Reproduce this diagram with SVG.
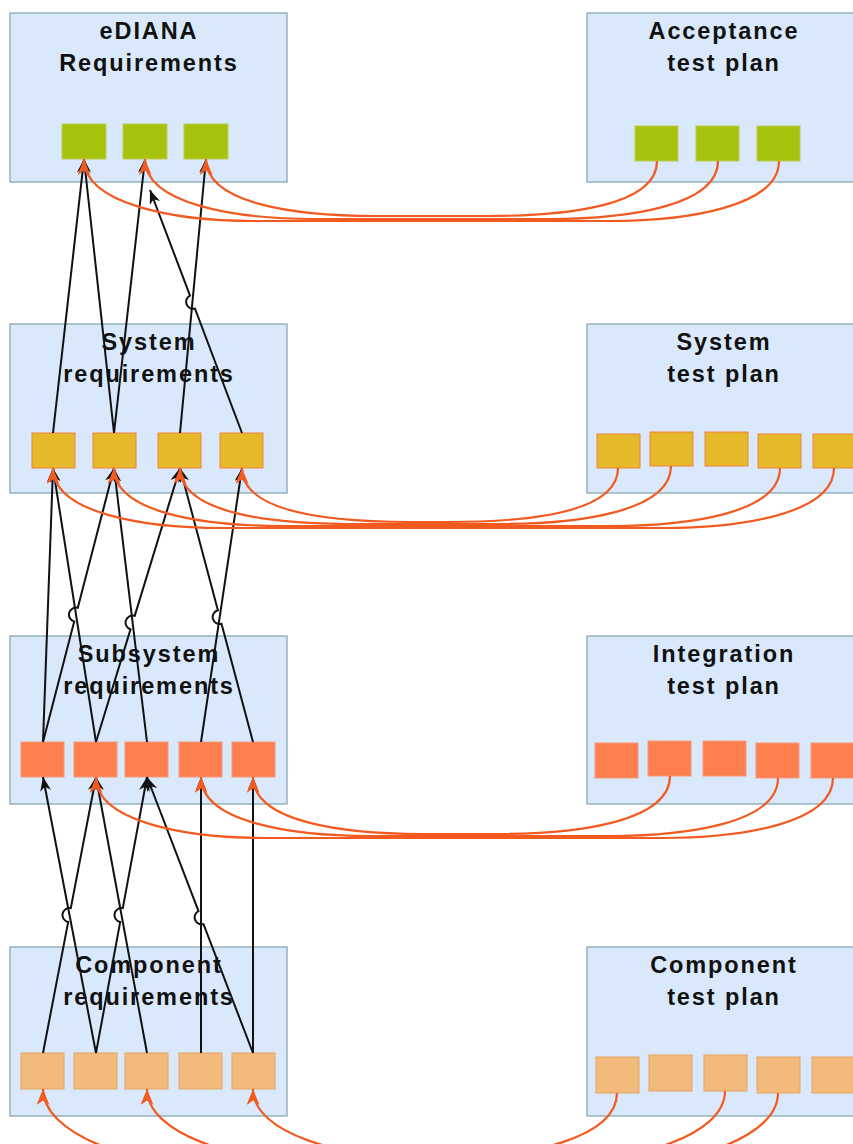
<svg xmlns="http://www.w3.org/2000/svg" width="853" height="1144" viewBox="0 0 853 1144">
<style>
.box{fill:#dae8fc;stroke:#86a9b0;stroke-width:1.3}
.t{font-family:"Liberation Sans",Arial,sans-serif;font-weight:bold;font-size:23.5px;letter-spacing:1.9px;fill:#111;text-anchor:middle}
.g{fill:#a5c30c;stroke:#bccd55;stroke-width:1}
.y{fill:#e6b92a;stroke:#f0823c;stroke-width:1}
.c{fill:#fd7e4f;stroke:#f99a78;stroke-width:1}
.o{fill:#f3bb7b;stroke:#e1a463;stroke-width:1}
.bl{fill:none;stroke:#111;stroke-width:2;marker-end:url(#ab)}
.or{fill:none;stroke:#f25a20;stroke-width:2.2;marker-end:url(#ao)}
</style>
<defs>
<marker id="ab" viewBox="0 0 14 11" refX="14" refY="5.5" markerWidth="14" markerHeight="11" orient="auto" markerUnits="userSpaceOnUse"><path d="M0,0 L14,5.5 L0,11 L4,5.5 z" fill="#111"/></marker>
<marker id="ao" viewBox="0 0 16 13" refX="16" refY="6.5" markerWidth="16" markerHeight="13" orient="auto" markerUnits="userSpaceOnUse"><path d="M0,0 L16,6.5 L0,13 L4.5,6.5 z" fill="#f25a20"/></marker>
</defs>

<g id="ediana-req">
<rect class="box" x="10" y="13" width="277" height="169"/>
<text class="t" x="149" y="39">eDIANA</text>
<text class="t" x="149" y="71">Requirements</text>
<rect class="g" x="62" y="124" width="44" height="35"/>
<rect class="g" x="123" y="124" width="44" height="35"/>
<rect class="g" x="184" y="124" width="44" height="35"/>
</g>
<g id="acceptance-test">
<rect class="box" x="587" y="13" width="280" height="169"/>
<text class="t" x="724" y="39">Acceptance</text>
<text class="t" x="724" y="71">test plan</text>
<rect class="g" x="635" y="126" width="43" height="35"/>
<rect class="g" x="696" y="126" width="43" height="35"/>
<rect class="g" x="757" y="126" width="43" height="35"/>
</g>

<g id="system-req">
<rect class="box" x="10" y="324" width="277" height="169"/>
<text class="t" x="149" y="350">System</text>
<text class="t" x="149" y="382">requirements</text>
<rect class="y" x="32" y="433" width="43" height="35"/>
<rect class="y" x="93" y="433" width="43" height="35"/>
<rect class="y" x="158" y="433" width="43" height="35"/>
<rect class="y" x="220" y="433" width="43" height="35"/>
</g>
<g id="system-test">
<rect class="box" x="587" y="324" width="280" height="169"/>
<text class="t" x="724" y="350">System</text>
<text class="t" x="724" y="382">test plan</text>
<rect class="y" x="597" y="434" width="43" height="34"/>
<rect class="y" x="650" y="432" width="43" height="34"/>
<rect class="y" x="705" y="432" width="43" height="34"/>
<rect class="y" x="758" y="434" width="43" height="34"/>
<rect class="y" x="813" y="434" width="43" height="34"/>
</g>

<g id="subsystem-req">
<rect class="box" x="10" y="636" width="277" height="168"/>
<text class="t" x="149" y="662">Subsystem</text>
<text class="t" x="149" y="694">requirements</text>
<rect class="c" x="21" y="742" width="43" height="35"/>
<rect class="c" x="74" y="742" width="43" height="35"/>
<rect class="c" x="125" y="742" width="43" height="35"/>
<rect class="c" x="179" y="742" width="43" height="35"/>
<rect class="c" x="232" y="742" width="43" height="35"/>
</g>
<g id="integration-test">
<rect class="box" x="587" y="636" width="280" height="168"/>
<text class="t" x="724" y="662">Integration</text>
<text class="t" x="724" y="694">test plan</text>
<rect class="c" x="595" y="743" width="43" height="35"/>
<rect class="c" x="648" y="741" width="43" height="35"/>
<rect class="c" x="703" y="741" width="43" height="35"/>
<rect class="c" x="756" y="743" width="43" height="35"/>
<rect class="c" x="811" y="743" width="43" height="35"/>
</g>

<g id="component-req">
<rect class="box" x="10" y="947" width="277" height="169"/>
<text class="t" x="149" y="973">Component</text>
<text class="t" x="149" y="1005">requirements</text>
<rect class="o" x="21" y="1053" width="43" height="36"/>
<rect class="o" x="74" y="1053" width="43" height="36"/>
<rect class="o" x="125" y="1053" width="43" height="36"/>
<rect class="o" x="179" y="1053" width="43" height="36"/>
<rect class="o" x="232" y="1053" width="43" height="36"/>
</g>
<g id="component-test">
<rect class="box" x="587" y="947" width="280" height="169"/>
<text class="t" x="724" y="973">Component</text>
<text class="t" x="724" y="1005">test plan</text>
<rect class="o" x="596" y="1057" width="43" height="36"/>
<rect class="o" x="649" y="1055" width="43" height="36"/>
<rect class="o" x="704" y="1055" width="43" height="36"/>
<rect class="o" x="757" y="1057" width="43" height="36"/>
<rect class="o" x="812" y="1057" width="43" height="36"/>
</g>

<g id="connectors">
<path class="bl" d="M53,433 L84,159"/>
<path class="bl" d="M114,433 L84,159"/>
<path class="bl" d="M114,433 L145,159"/>
<path class="bl" d="M180,433 L206,159"/>
<path class="bl" d="M242,433 L195,308.6 A7,7 0 0 1 190,295.6 L150,190"/>

<path class="bl" d="M43,742 L53,468"/>
<path class="bl" d="M43,742 L74.2,621.4 A7,7 0 0 1 77.8,607.8 L114,468"/>
<path class="bl" d="M96,742 L53,468"/>
<path class="bl" d="M96,742 L130.5,629.3 A7,7 0 0 1 134.7,615.9 L180,468"/>
<path class="bl" d="M147,742 L114,468"/>
<path class="bl" d="M201,742 L242,468"/>
<path class="bl" d="M253,742 L221.5,623.8 A7,7 0 0 1 217.9,610.2 L180,468"/>

<path class="bl" d="M43,1053 L68.2,921.9 A7,7 0 0 1 70.8,908.1 L96,777"/>
<path class="bl" d="M96,1053 L43,777"/>
<path class="bl" d="M96,1053 L120.2,921.9 A7,7 0 0 1 122.8,908.1 L147,777"/>
<path class="bl" d="M147,1053 L96,777"/>
<path class="bl" d="M253,1053 L203.5,924.1 A7,7 0 0 1 198.5,911.1 L147,777"/>
<path class="bl" d="M201,1053 L201,777"/>
<path class="bl" d="M253,1053 L253,777"/>

<path class="or" d="M657,161 C657,206 567,216 487,216 L376,216 C296,216 206,204 206,159"/>
<path class="or" d="M718,161 C718,206 628,219 548,219 L315,219 C235,219 145,204 145,159"/>
<path class="or" d="M779,161 C779,206 689,221 609,221 L254,221 C174,221 84,204 84,159"/>

<path class="or" d="M618,468 C618,513 528,522 448,522 L412,522 C332,522 242,513 242,468"/>
<path class="or" d="M671,466 C671,511 581,524 501,524 L350,524 C270,524 180,513 180,468"/>
<path class="or" d="M780,468 C780,513 690,526 610,526 L284,526 C204,526 114,513 114,468"/>
<path class="or" d="M834,468 C834,513 744,528 664,528 L223,528 C143,528 53,513 53,468"/>

<path class="or" d="M670,776 C670,821 580,834 500,834 L423,834 C343,834 253,822 253,777"/>
<path class="or" d="M778,778 C778,823 688,836 608,836 L371,836 C291,836 201,822 201,777"/>
<path class="or" d="M833,778 C833,823 743,838 663,838 L266,838 C186,838 96,822 96,777"/>

<path class="or" d="M617,1093 C617,1138 527,1158 447,1158 L423,1158 C343,1158 253,1134 253,1089"/>
<path class="or" d="M725,1091 C725,1136 635,1162 555,1162 L317,1162 C237,1162 147,1134 147,1089"/>
<path class="or" d="M778,1093 C778,1138 688,1166 608,1166 L213,1166 C133,1166 43,1134 43,1089"/>
</g>
</svg>
